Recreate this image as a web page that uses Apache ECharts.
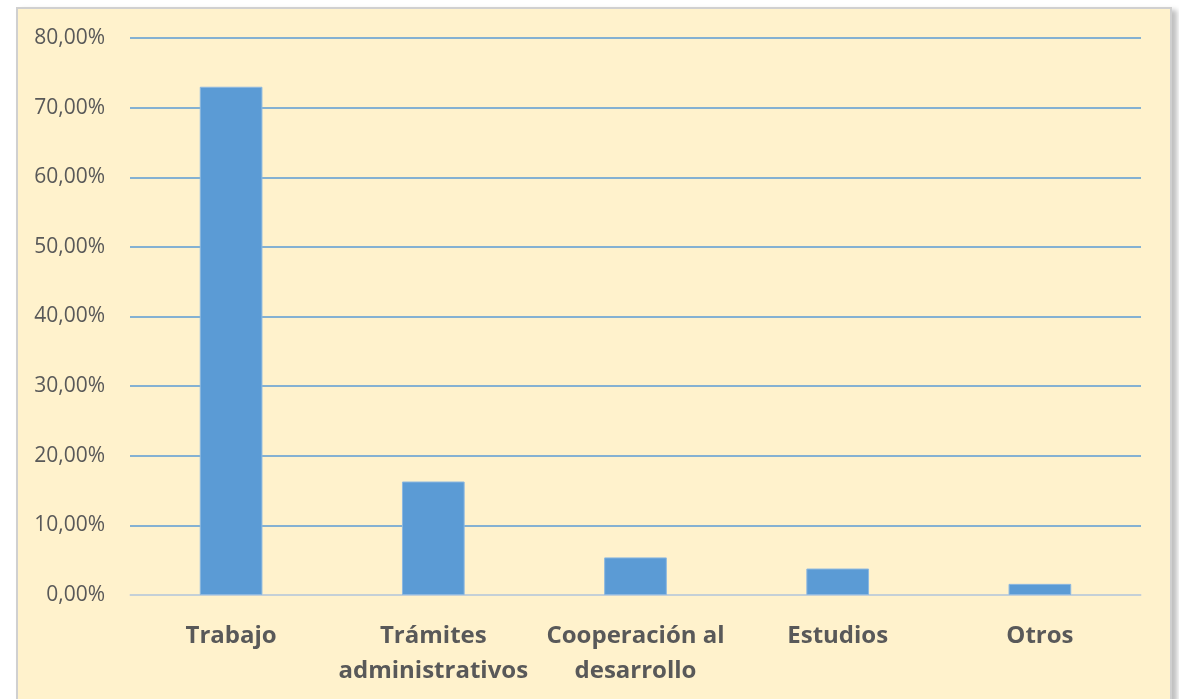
<!DOCTYPE html>
<html>
<head>
<meta charset="utf-8">
<script src="https://cdn.jsdelivr.net/npm/echarts@6/dist/echarts.min.js"></script>
<style>
  html, body { margin: 0; padding: 0; background: #ffffff; }
  #panel {
    position: absolute; left: 16px; top: 7px; width: 1152px; height: 700px;
    background: #FFF2CC; border: 2px solid #D0D0D0;
    box-shadow: 5px 3px 5px rgba(0,0,0,0.25);
  }
  #chart { position: absolute; left: 0; top: 0; width: 1179px; height: 699px; }
</style>
</head>
<body>
<div id="panel"></div>
<div id="chart"></div>
<script>
const categories = ['Trabajo', 'Trámites\nadministrativos', 'Cooperación al\ndesarrollo', 'Estudios', 'Otros'];
const values = [73.0, 16.3, 5.4, 3.8, 1.6];
const yTicks = { min: 0, max: 80, interval: 10 };

const chart = echarts.init(document.getElementById('chart'), null, { renderer: 'canvas' });
chart.setOption({
  backgroundColor: 'transparent',
  animation: false,
  grid: { left: 130, right: 38, top: 38, bottom: 104, containLabel: false },
  xAxis: {
    type: 'category',
    data: categories,
    axisLine: { show: true, lineStyle: { color: '#D9D9D9', width: 1.5 } },
    axisTick: { show: false },
    axisLabel: {
      color: '#595959', fontFamily: 'Open Sans', fontWeight: 'bold', fontSize: 24,
      lineHeight: 35, margin: 24, interval: 0
    }
  },
  yAxis: {
    type: 'value',
    min: yTicks.min, max: yTicks.max, interval: yTicks.interval,
    axisLine: { show: false },
    axisTick: { show: false },
    splitLine: { lineStyle: { color: '#5B9BD5', width: 1.5 } },
    axisLabel: {
      color: '#595959', fontFamily: 'Open Sans', fontSize: 21, margin: 25,
      formatter: v => v.toFixed(2).replace('.', ',') + '%'
    }
  },
  series: [{
    type: 'bar',
    data: values,
    barWidth: '31%',
    itemStyle: { color: '#5B9BD5', borderColor: '#8DB8E0', borderWidth: 1 }
  }]
});
</script>
</body>
</html>
